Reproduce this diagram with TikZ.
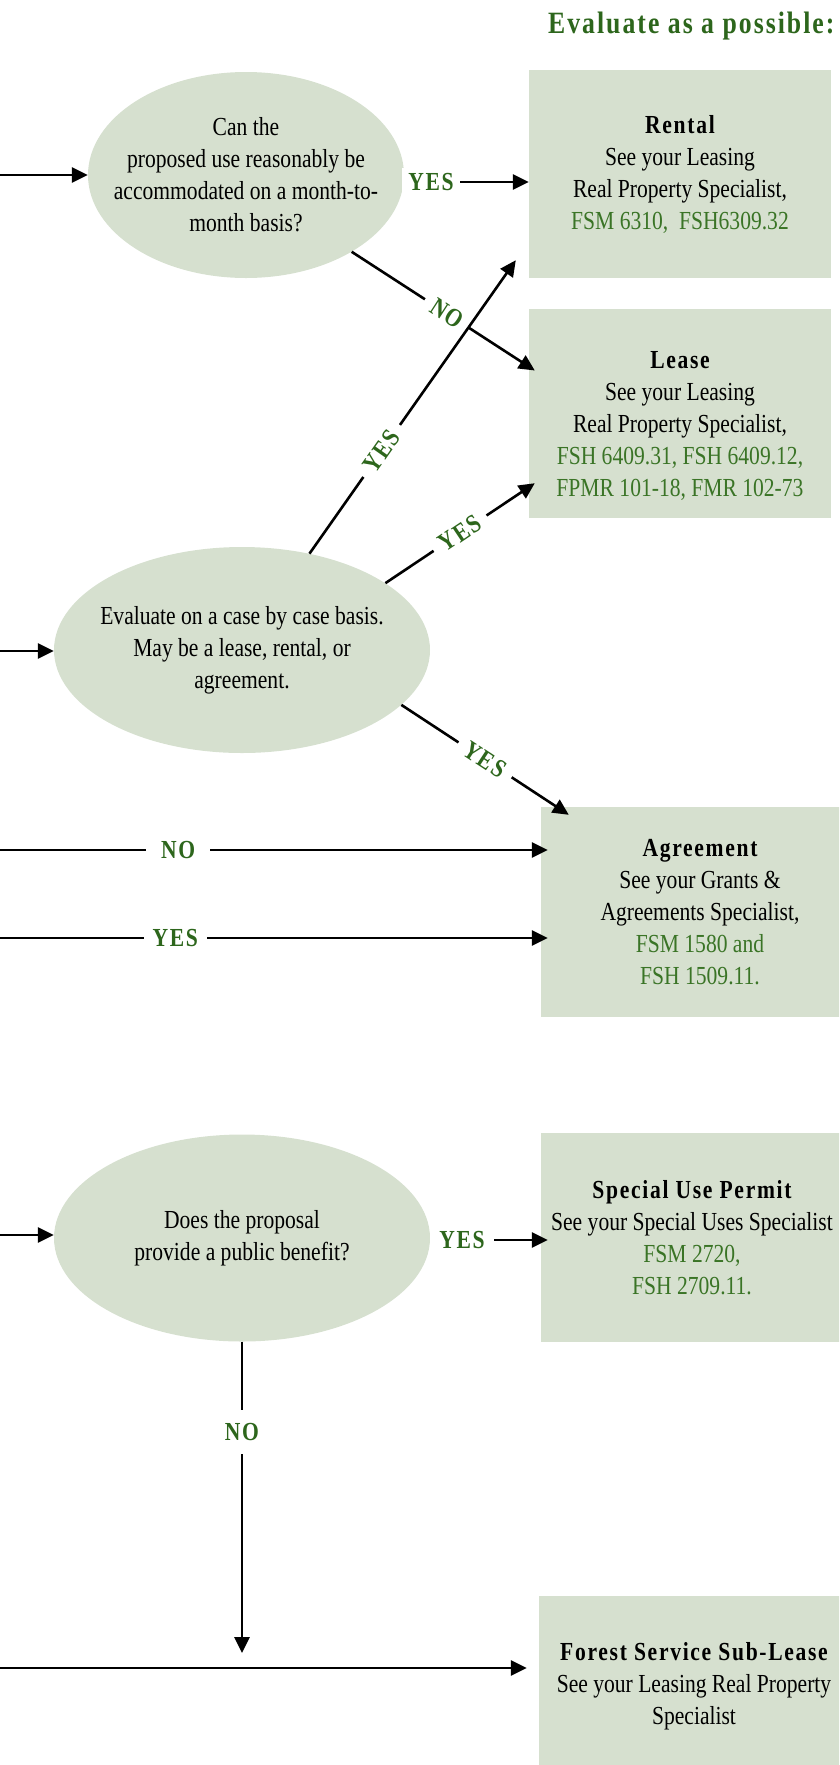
\documentclass[tikz,border=0pt]{standalone}
\usepackage{fontspec}
\setmainfont[FakeStretch=0.83]{Liberation Serif}
\newfontfamily\spacedbold[FakeStretch=0.83,LetterSpace=6.5]{Liberation Serif}
\usepackage{xcolor}
\usetikzlibrary{shapes.geometric}
\usetikzlibrary{arrows.meta}
\usetikzlibrary{calc}

\definecolor{sage}{RGB}{214,224,207}
\definecolor{darkgreen}{RGB}{45,102,28}
\definecolor{refgreen}{RGB}{58,116,38}

\newcommand{\boxtitle}[1]{{\spacedbold\bfseries #1}}
\newcommand{\fsref}[1]{\textcolor{refgreen}{#1}}

\begin{document}
\begin{tikzpicture}[x=1pt, y=1pt, >={Triangle[length=16pt, width=15pt]}]
		\useasboundingbox (0,0) rectangle (839,-1765);
		\clip (0,0) rectangle (839,-1765);
		
		\node (title) [anchor=base east, text=darkgreen, font=\fontsize{31}{36}\selectfont\spacedbold\bfseries] at (838,-33) {Evaluate as a possible:};
		
		\begin{scope}[every node/.style={ellipse, fill=sage, inner xsep=-25pt, inner ysep=0pt, align=center, font=\fontsize{26}{32}\selectfont}]
		\node (e1) [minimum width=316pt, minimum height=206pt] at (246,-175) {Can the\\ proposed use reasonably be\\ accommodated on a month-to-\\ month basis?};
		\node (e2) [minimum width=376pt, minimum height=206pt] at (242,-650) {Evaluate on a case by case basis.\\ May be a lease, rental, or\\ agreement.};
		\node (e3) [minimum width=376pt, minimum height=207pt] at (242,-1238) {Does the proposal\\ provide a public benefit?};
		\end{scope}
		
		\begin{scope}[every node/.style={rectangle, fill=sage, inner sep=0pt, align=center, font=\fontsize{26}{32}\selectfont}]
		\node (rental) [minimum width=302pt, minimum height=208pt] at (680,-174) {\boxtitle{Rental}\\ See your Leasing\\ Real Property Specialist,\\ \fsref{FSM 6310,\ \ FSH6309.32}};
		\node (lease) [minimum width=302pt, minimum height=209pt] at (680,-413.5) {\rule{0pt}{42pt}\boxtitle{Lease}\\ See your Leasing\\ Real Property Specialist,\\ \fsref{FSH 6409.31, FSH 6409.12,}\\ \fsref{FPMR 101-18, FMR 102-73}};
		\node (agree) [minimum width=318pt, minimum height=210pt] at (700,-912) {\boxtitle{Agreement}\\ See your Grants \&\\ Agreements Specialist,\\ \fsref{FSM 1580 and}\\ \fsref{FSH 1509.11.}};
		\node (permit) [minimum width=302pt, minimum height=209pt] at (692,-1237.5) {\boxtitle{Special Use Permit}\\ See your Special Uses Specialist\\ \fsref{FSM 2720,}\\ \fsref{FSH 2709.11.}};
		\node (sublease) [minimum width=310pt, minimum height=180pt] at (694,-1686) {\boxtitle{Forest Service Sub-Lease}\\ See your Leasing Real Property\\ Specialist};
		\end{scope}
		
		\coordinate (inA) at (0,-175);
		\coordinate (inB) at (0,-651);
		\coordinate (inC) at (0,-850);
		\coordinate (inD) at (0,-938);
		\coordinate (inE) at (0,-1235);
		\coordinate (inF) at (0,-1668);
		\coordinate (drop) at (242,-1653);
		
		\begin{scope}[line width=2.6pt,
		lbl/.style={text=darkgreen, fill=white, inner xsep=9pt, inner ysep=5pt, font=\fontsize{26}{32}\selectfont\spacedbold\bfseries}]
		\path [->] (inA) edge (e1.west)
		(e1.east |- 0,-182) edge node [lbl, inner xsep=6pt, pos=0.215] {YES} (rental.west |- 0,-182)
		(e1.-36) edge node [lbl, sloped, pos=0.52] {NO} ([xshift=6pt, yshift=43pt]lease.west)
		(e2.55) edge node [lbl, sloped, pos=0.35] {YES} ([xshift=-13pt, yshift=18pt]rental.south west)
		(e2.25) edge node [lbl, sloped, pos=0.5] {YES} ([xshift=6pt, yshift=35pt]lease.south west)
		(e2.-19) edge node [lbl, sloped, pos=0.5] {YES} ([xshift=28pt, yshift=-8pt]agree.north west)
		(inB) edge (e2.west |- inB)
		(inC) edge node [lbl, inner xsep=15pt, pos=0.325] {NO} ($(agree.west |- inC)+(7,0)$)
		(inD) edge node [lbl, pos=0.32] {YES} ($(agree.west |- inD)+(7,0)$)
		(inE) edge (e3.west |- inE)
		(e3.east |- 0,-1240) edge node [lbl, pos=0.27] {YES} ($(permit.west |- 0,-1240)+(7,0)$)
		(e3.south) edge node [lbl, inner ysep=13pt, pos=0.29] {NO} (drop)
		(inF) edge ($(sublease.west |- inF)+(-12,0)$);
		\end{scope}
		
\end{tikzpicture}
\end{document}
